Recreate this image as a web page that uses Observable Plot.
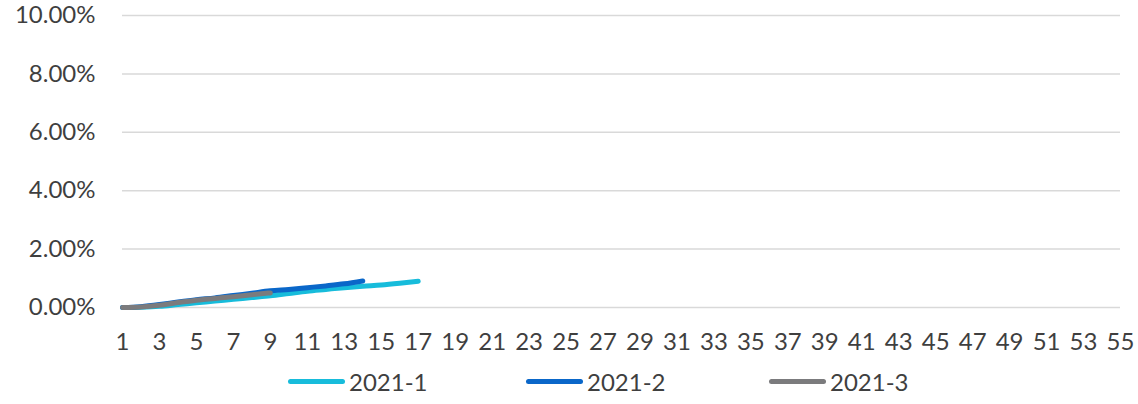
<!DOCTYPE html>
<html>
<head>
<meta charset="utf-8">
<script src="https://cdn.jsdelivr.net/npm/d3@7"></script>
<script src="https://cdn.jsdelivr.net/npm/@observablehq/plot@0.6"></script>
<style>
  html, body { margin: 0; padding: 0; background: #fff; }
  body { width: 1138px; height: 404px; overflow: hidden; font-family: Lato, "Noto Sans", sans-serif; color: #404040; }
  #legend { position: relative; height: 44px; }
  .item { position: absolute; top: 0; display: flex; align-items: center; font-size: 24px; color: #3F3F3F; }
  .sw { width: 57px; height: 5px; border-radius: 3px; margin-right: 4px; }
</style>
</head>
<body>
<div id="chart"></div>
<div id="legend"></div>
<script>
const weeks = d3.range(1, 56);
const xTicks = d3.range(1, 56, 2);
const yTicks = [0, 2, 4, 6, 8, 10];
const seriesNames = ["2021-1", "2021-2", "2021-3"];
const seriesColors = ["#17BCDB", "#0A67C9", "#7B7B7D"];
const s2021_1 = [0, 0.01, 0.04, 0.10, 0.16, 0.22, 0.28, 0.34, 0.40, 0.48, 0.56, 0.62, 0.68, 0.73, 0.77, 0.83, 0.90];
const s2021_2 = [0, 0.03, 0.10, 0.19, 0.27, 0.33, 0.41, 0.49, 0.57, 0.62, 0.68, 0.74, 0.81, 0.91];
const s2021_3 = [0, 0.02, 0.08, 0.17, 0.25, 0.31, 0.37, 0.44, 0.50];

const seriesValues = [s2021_1, s2021_2, s2021_3];
const rows = seriesNames.flatMap((name, i) =>
  seriesValues[i].map((v, j) => ({series: name, week: weeks[j], value: v})));

const chart = Plot.plot({
  width: 1138,
  height: 360,
  marginTop: 15,
  marginLeft: 122,
  marginRight: 18,
  marginBottom: 53,
  style: {fontFamily: "Lato, 'Noto Sans', sans-serif", fontSize: "24px", color: "#3F3F3F", background: "#fff"},
  x: {domain: [1, 55], ticks: xTicks, tickSize: 0, tickPadding: 25, label: null},
  y: {domain: [0, 10], ticks: yTicks, tickSize: 0, tickPadding: 27, label: null, tickFormat: d => d3.format(".2f")(d) + "%"},
  color: {domain: seriesNames, range: seriesColors},
  marks: [
    Plot.ruleY(yTicks, {stroke: "#D9D9D9", strokeWidth: 1.5}),
    Plot.line(rows, {x: "week", y: "value", z: "series", stroke: "series", strokeWidth: 5, strokeLinecap: "round", strokeLinejoin: "round", curve: "monotone-x"})
  ]
});
document.getElementById("chart").appendChild(chart);

const legend = document.getElementById("legend");
const starts = [288, 526, 769];
seriesNames.forEach((name, i) => {
  const it = document.createElement("div");
  it.className = "item";
  it.style.left = starts[i] + "px";
  it.style.top = "7px";
  const sw = document.createElement("div");
  sw.className = "sw";
  sw.style.background = seriesColors[i];
  const t = document.createElement("span");
  t.textContent = name;
  it.appendChild(sw); it.appendChild(t);
  legend.appendChild(it);
});
</script>
</body>
</html>
